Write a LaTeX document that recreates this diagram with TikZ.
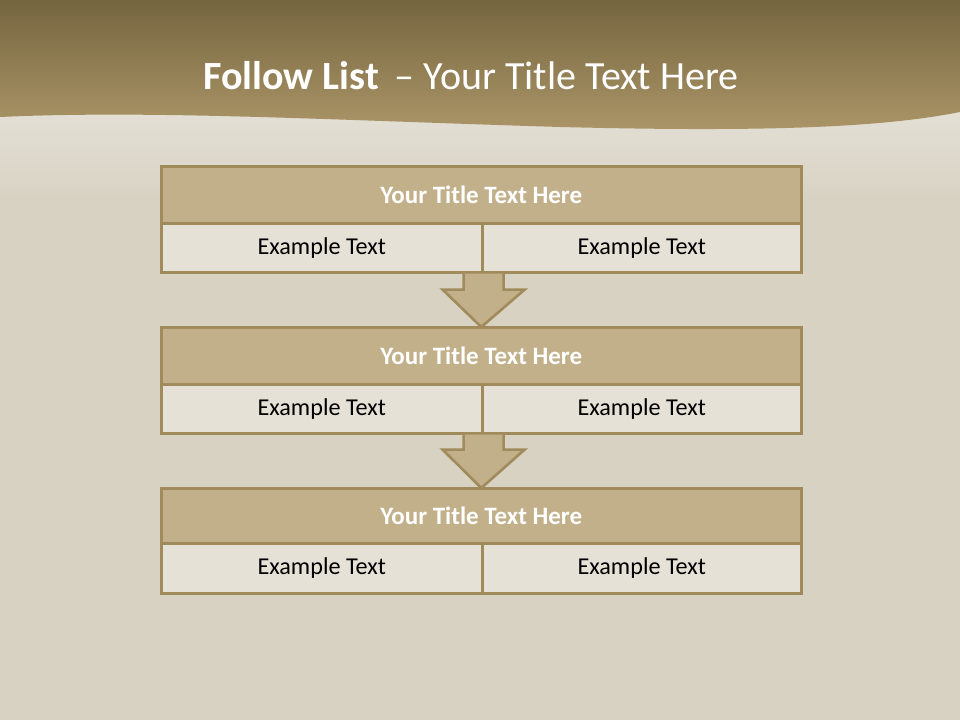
\documentclass[tikz,border=0pt]{standalone}
\usepackage{fontspec}
\setmainfont{Carlito}
\usetikzlibrary{calc}
\definecolor{paper}{HTML}{D8D2C3}
\definecolor{hdrtop}{HTML}{75653F}
\definecolor{hdrbot}{HTML}{AC9668}
\definecolor{barfill}{HTML}{C2B08A}
\definecolor{barline}{HTML}{A18A5B}
\definecolor{cellfill}{HTML}{E6E1D6}
\tikzset{
  titlebar/.style={draw=barline, line width=2.6pt, fill=barfill, anchor=north west, inner sep=0pt,
    minimum width=640pt, text=white, font=\fontsize{25}{28}\selectfont\bfseries},
  cellbox/.style={draw=barline, line width=2.6pt, fill=cellfill, anchor=north west, inner sep=0pt,
    minimum width=320pt, text=black, font=\fontsize{24.2}{28}\selectfont},
  flowarrow/.style={draw=barline, line width=2.6pt, fill=barfill, line join=miter}
}
\begin{document}
\begin{tikzpicture}[x=1pt,y=-1pt]
\useasboundingbox (0,0) rectangle (960,720);
\fill[paper] (0,0) rectangle (960,720);
\shade[top color=paper!70!white, bottom color=paper] (0,110) rectangle (960,200);
\shade[top color=hdrtop, bottom color=hdrbot]
  (0,0) -- (960,0) -- (960,112) .. controls (880,128) and (760,132) .. (560,127)
  .. controls (330,120) and (150,110) .. (0,117) -- cycle;
\node[text=white, font=\fontsize{40}{46}\selectfont] (title) at (471,76)
  {\textbf{Follow List}\, – Your Title Text Here};
% box 1
\node[titlebar, minimum height=57pt] (t1) at (160,165) {Your Title Text Here};
\node[cellbox, minimum width=321pt, minimum height=49pt] (c1l) at (160,222) {Example Text};
\node[cellbox, minimum width=319pt, minimum height=49pt] (c1r) at (481,222) {Example Text};
% box 2
\node[titlebar, minimum height=57pt] (t2) at (160,326) {Your Title Text Here};
\node[cellbox, minimum width=321pt, minimum height=49pt] (c2l) at (160,383) {Example Text};
\node[cellbox, minimum width=319pt, minimum height=49pt] (c2r) at (481,383) {Example Text};
% box 3
\node[titlebar, minimum height=55pt] (t3) at (160,487) {Your Title Text Here};
\node[cellbox, minimum width=321pt, minimum height=50pt] (c3l) at (160,542) {Example Text};
\node[cellbox, minimum width=319pt, minimum height=50pt] (c3r) at (481,542) {Example Text};
% arrows
\draw[flowarrow] ($(c1l.south east)+(-20,0)$) -- ++(0,16) -- ++(-21,0)
  -- ($(t2.north)+(0,1)$) -- ($(c1l.south east)+(41,16)$) -- ++(-21,0) -- ($(c1l.south east)+(20,0)$);
\draw[flowarrow] ($(c2l.south east)+(-20,0)$) -- ++(0,15) -- ++(-21,0)
  -- ($(t3.north)+(0,1)$) -- ($(c2l.south east)+(41,15)$) -- ++(-21,0) -- ($(c2l.south east)+(20,0)$);
\end{tikzpicture}
\end{document}
